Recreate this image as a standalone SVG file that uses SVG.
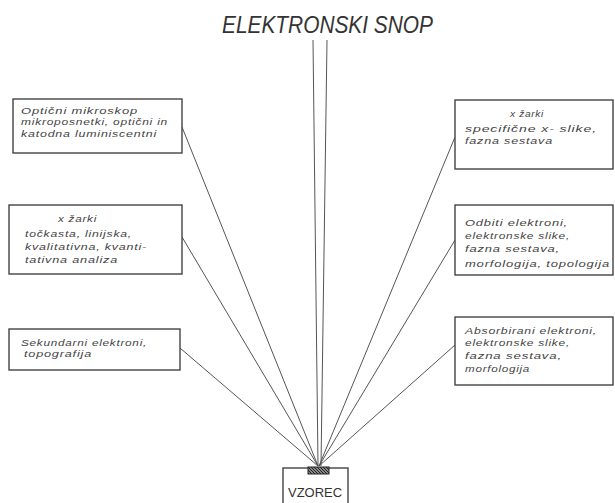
<svg xmlns="http://www.w3.org/2000/svg" width="615" height="503" viewBox="0 0 615 503">
<style>
.bg{fill:#fff}
.box{fill:#fff;stroke:#444;stroke-width:1.4}
.t{font-family:"Liberation Sans",Arial,sans-serif;font-style:italic;font-size:9.5px;fill:#444;letter-spacing:0.6px}
.title{font-family:"Liberation Sans",Arial,sans-serif;font-style:italic;font-size:23px;fill:#333}
.lbl{font-family:"Liberation Sans",Arial,sans-serif;font-size:13px;fill:#333}
.c{stroke:#555;stroke-width:1;fill:none}
</style>
<defs>
<pattern id="hatch" width="3" height="3" patternUnits="userSpaceOnUse">
<rect width="3" height="3" fill="#888"/>
<path d="M0,0 L3,3" stroke="#222" stroke-width="1"/>
</pattern>
</defs>
<rect class="bg" x="0" y="0" width="615" height="503"/>
<g id="title">
<text class="title" x="222" y="33" textLength="211" lengthAdjust="spacingAndGlyphs">ELEKTRONSKI SNOP</text>
</g>
<g id="connectors">
<line class="c" x1="313" y1="40" x2="318" y2="466"/>
<line class="c" x1="327" y1="40" x2="321" y2="466"/>
<line class="c" x1="182" y1="127" x2="318" y2="466"/>
<line class="c" x1="182" y1="237" x2="318" y2="466"/>
<line class="c" x1="180" y1="348" x2="318" y2="466"/>
<line class="c" x1="455" y1="137" x2="319" y2="466"/>
<line class="c" x1="455" y1="240" x2="319" y2="466"/>
<line class="c" x1="455" y1="345" x2="319" y2="466"/>
</g>
<g id="box1">
<rect class="box" x="13" y="99" width="169" height="54"/>
<text class="t" x="21" y="114" textLength="117" lengthAdjust="spacingAndGlyphs">Optični  mikroskop</text>
<text class="t" x="21" y="125" textLength="147" lengthAdjust="spacingAndGlyphs">mikroposnetki, optični  in</text>
<text class="t" x="21" y="137" textLength="136" lengthAdjust="spacingAndGlyphs">katodna  luminiscentni</text>
</g>
<g id="box2">
<rect class="box" x="9" y="205" width="173" height="69"/>
<text class="t" x="58" y="222" textLength="39" lengthAdjust="spacingAndGlyphs">x  žarki</text>
<text class="t" x="25" y="237" textLength="107" lengthAdjust="spacingAndGlyphs">točkasta, linijska,</text>
<text class="t" x="25" y="250" textLength="122" lengthAdjust="spacingAndGlyphs">kvalitativna, kvanti-</text>
<text class="t" x="25" y="263" textLength="93" lengthAdjust="spacingAndGlyphs">tativna  analiza</text>
</g>
<g id="box3">
<rect class="box" x="9" y="329" width="171" height="41"/>
<text class="t" x="21" y="346" textLength="126" lengthAdjust="spacingAndGlyphs">Sekundarni  elektroni,</text>
<text class="t" x="24" y="357" textLength="68" lengthAdjust="spacingAndGlyphs">topografija</text>
</g>
<g id="box4">
<rect class="box" x="455" y="100" width="158" height="69"/>
<text class="t" x="510" y="117" textLength="34" lengthAdjust="spacingAndGlyphs">x  žarki</text>
<text class="t" x="465" y="132" textLength="132" lengthAdjust="spacingAndGlyphs">specifične  x- slike,</text>
<text class="t" x="465" y="144" textLength="88" lengthAdjust="spacingAndGlyphs">fazna  sestava</text>
</g>
<g id="box5">
<rect class="box" x="455" y="205" width="158" height="70"/>
<text class="t" x="465" y="226" textLength="103" lengthAdjust="spacingAndGlyphs">Odbiti elektroni,</text>
<text class="t" x="465" y="239" textLength="105" lengthAdjust="spacingAndGlyphs">elektronske slike,</text>
<text class="t" x="465" y="252" textLength="95" lengthAdjust="spacingAndGlyphs">fazna sestava,</text>
<text class="t" x="465" y="267" textLength="145" lengthAdjust="spacingAndGlyphs">morfologija, topologija</text>
</g>
<g id="box6">
<rect class="box" x="455" y="317" width="158" height="68"/>
<text class="t" x="465" y="334" textLength="132" lengthAdjust="spacingAndGlyphs">Absorbirani elektroni,</text>
<text class="t" x="465" y="346" textLength="105" lengthAdjust="spacingAndGlyphs">elektronske  slike,</text>
<text class="t" x="465" y="359" textLength="97" lengthAdjust="spacingAndGlyphs">fazna sestava,</text>
<text class="t" x="465" y="372" textLength="65" lengthAdjust="spacingAndGlyphs">morfologija</text>
</g>
<g id="vzorec">
<rect class="box" x="283" y="468" width="65" height="45"/>
<rect x="308" y="467" width="21" height="7" fill="url(#hatch)" stroke="#222" stroke-width="1"/>
<text class="lbl" x="288" y="497" textLength="54" lengthAdjust="spacingAndGlyphs">VZOREC</text>
</g>
</svg>
